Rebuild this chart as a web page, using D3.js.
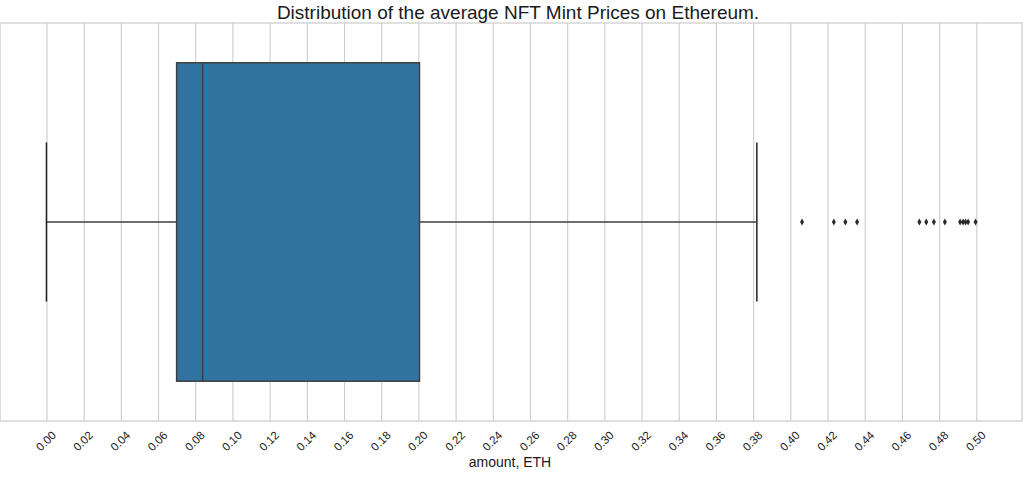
<!DOCTYPE html>
<html>
<head>
<meta charset="utf-8">
<script src="https://cdn.jsdelivr.net/npm/d3@7"></script>
<style>
    body { margin: 0; background: #fff; }
    text { font-family: "Liberation Sans", Arial, sans-serif; }
</style>
</head>
<body>
<div id="box-chart"></div>
<script>
// box statistics (ETH)
const boxLabels = ["min", "q1", "median", "q3", "max"];
const boxValues = [0.0, 0.070, 0.084, 0.2006, 0.382];

// points beyond the upper whisker
const outliers = [0.4063, 0.4234, 0.4296, 0.4359, 0.4694, 0.4731, 0.4772, 0.4831,
    0.4913, 0.4929, 0.4942, 0.4956, 0.4996];

const tickValues = d3.range(0, 26).map(i => i * 0.02);

const width = 1024;
const height = 487;
const margins = {
    top: 23,
    left: 0,
    right: 2,
    bottom: 66
};

const stats = {};
boxLabels.forEach((label, i) => stats[label] = boxValues[i]);

const svg = d3.select("#box-chart")
    .append("svg")
        .attr("width", width)
        .attr("height", height);

const x = d3.scaleLinear()
    .domain([-0.02498, 0.52458])
    .range([margins.left, width - margins.right]);

// single category, seaborn style: band from -0.5 to 0.5
const y = d3.scaleLinear()
    .domain([-0.5, 0.5])
    .range([margins.top, height - margins.bottom]);

// vertical grid
svg.append("g")
    .attr("transform", `translate(0, ${height - margins.bottom})`)
    .call(d3.axisBottom(x)
        .tickValues(tickValues)
        .tickSize(-(height - margins.bottom - margins.top))
        .tickFormat(""))
    .call(g => g.select(".domain").remove())
    .call(g => g.selectAll("line")
        .attr("stroke", "#cccccc")
        .attr("stroke-width", 1.1));

// frame
svg.append("rect")
    .attr("x", x.range()[0])
    .attr("y", margins.top)
    .attr("width", x.range()[1] - x.range()[0])
    .attr("height", height - margins.bottom - margins.top)
    .attr("fill", "none")
    .attr("stroke", "#cccccc")
    .attr("stroke-width", 1.25);

// tick labels, rotated around their centre
const xAxis = svg.append("g")
    .attr("transform", `translate(0, ${height - margins.bottom})`)
    .call(d3.axisBottom(x)
        .tickValues(tickValues)
        .tickSize(0)
        .tickFormat(d3.format(".2f")));

xAxis.select(".domain").remove();
xAxis.selectAll("text")
    .attr("y", 0)
    .attr("dy", 0)
    .attr("font-size", 11.5)
    .attr("fill", "#1a1a1a")
    .style("text-anchor", "middle")
    .attr("dominant-baseline", "central")
    .attr("transform", "translate(-1, 20) rotate(-45)");

const edge = "#3f3f3f";

// whiskers
svg.append("line")
    .attr("x1", x(stats.min))
    .attr("x2", x(stats.q1))
    .attr("y1", y(0))
    .attr("y2", y(0))
    .attr("stroke", edge)
    .attr("stroke-width", 1.5);

svg.append("line")
    .attr("x1", x(stats.q3))
    .attr("x2", x(stats.max))
    .attr("y1", y(0))
    .attr("y2", y(0))
    .attr("stroke", edge)
    .attr("stroke-width", 1.5);

// caps
svg.selectAll("line.cap")
    .data([stats.min, stats.max])
    .join("line")
        .attr("class", "cap")
        .attr("x1", d => x(d))
        .attr("x2", d => x(d))
        .attr("y1", y(-0.2))
        .attr("y2", y(0.2))
        .attr("stroke", "#222222")
        .attr("stroke-width", 1.5);

// the box
svg.append("rect")
    .attr("x", x(stats.q1))
    .attr("y", y(-0.4))
    .attr("width", x(stats.q3) - x(stats.q1))
    .attr("height", y(0.4) - y(-0.4))
    .attr("fill", "#3274a1")
    .attr("stroke", edge)
    .attr("stroke-width", 1.5);

svg.append("line")
    .attr("x1", x(stats.median))
    .attr("x2", x(stats.median))
    .attr("y1", y(-0.4))
    .attr("y2", y(0.4))
    .attr("stroke", edge)
    .attr("stroke-width", 1.5);

// outliers as thin diamonds
svg.selectAll("path.flier")
    .data(outliers)
    .join("path")
        .attr("class", "flier")
        .attr("d", "M0,-3.5L2,0L0,3.5L-2,0Z")
        .attr("transform", d => `translate(${x(d)}, ${y(0)})`)
        .attr("fill", "#2a2a2a");

// title & label
svg.append("text")
    .attr("x", 518)
    .attr("y", 19)
    .attr("text-anchor", "middle")
    .attr("font-size", 19)
    .attr("fill", "#1a1a1a")
    .text("Distribution of the average NFT Mint Prices on Ethereum.");

svg.append("text")
    .attr("x", 510)
    .attr("y", 467)
    .attr("text-anchor", "middle")
    .attr("font-size", 14)
    .attr("fill", "#1a1a1a")
    .text("amount, ETH");
</script>
</body>
</html>
